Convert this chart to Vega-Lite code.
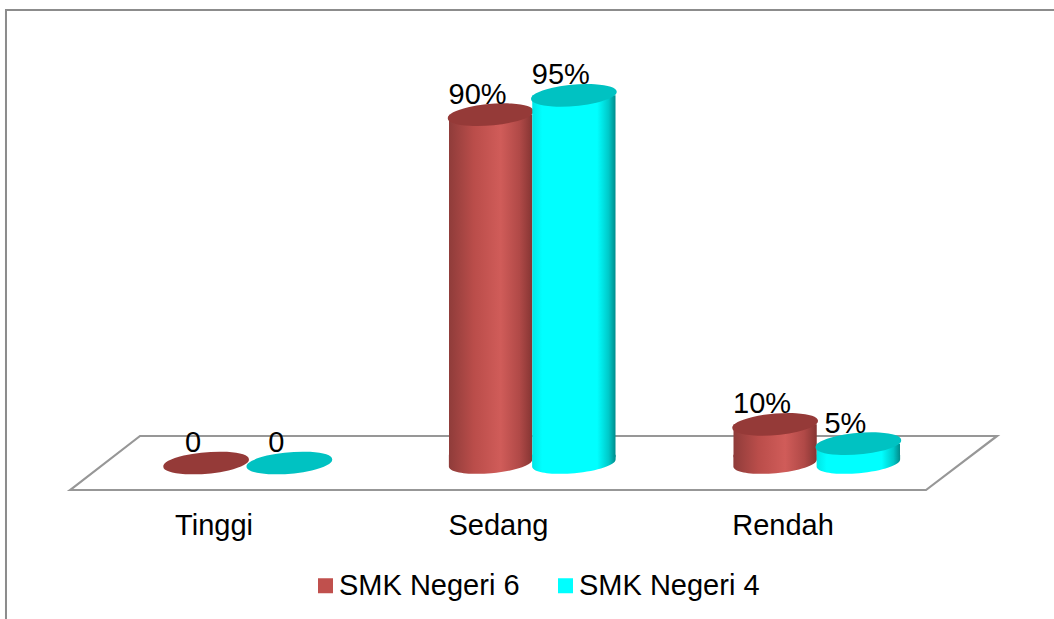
{
"$schema":"https://vega.github.io/schema/vega-lite/v6.json",
"width":1054,"height":619,"autosize":"none","padding":0,"background":"white",
"config":{"view":{"stroke":null},"font":"Liberation Sans"},
"data":{"values":[
{"kategori":"Tinggi","sekolah":"SMK Negeri 6","nilai":0,"label":"0"},
{"kategori":"Tinggi","sekolah":"SMK Negeri 4","nilai":0,"label":"0"},
{"kategori":"Sedang","sekolah":"SMK Negeri 6","nilai":90,"label":"90%"},
{"kategori":"Sedang","sekolah":"SMK Negeri 4","nilai":95,"label":"95%"},
{"kategori":"Rendah","sekolah":"SMK Negeri 6","nilai":10,"label":"10%"},
{"kategori":"Rendah","sekolah":"SMK Negeri 4","nilai":5,"label":"5%"}
]},
"encoding":{
"x":{"field":"kategori","type":"nominal","sort":["Tinggi","Sedang","Rendah"],
 "scale":{"domain":["Tinggi","Sedang","Rendah"],"range":[105.75,959.25],"paddingInner":0,"paddingOuter":0},
 "axis":{"title":null,"orient":"bottom","offset":-108,"domain":false,"ticks":false,"labelAngle":0,"labelPadding":0,"labelFontSize":29,"labelColor":"#000000","labelFont":"Liberation Sans","labelOffset":-34,"grid":false}},
"xOffset":{"field":"sekolah","type":"nominal","scale":{"domain":["SMK Negeri 6","SMK Negeri 4"],"range":[58.75,225.25],"paddingInner":0,"paddingOuter":0}},
"y":{"field":"nilai","type":"quantitative","scale":{"domain":[0,100],"range":[463,76],"nice":false},"axis":null}
},
"layer":[
{"mark":{"type":"point","filled":false,"fill":null,"stroke":"#8c8c8c","strokeWidth":2,"opacity":1,"size":1098304,"shape":"M-1.0048,0.32 L-1.0048,-0.8645 L1,-0.8645"},
 "transform":[{"filter":"datum.kategori=='Sedang' && datum.sekolah=='SMK Negeri 6'"}],
 "encoding":{"xOffset":{"value":142.25},"y":{"datum":0}}},
{"mark":{"type":"point","filled":false,"fill":null,"stroke":"#979797","strokeWidth":2.2,"opacity":1,"size":859329,"shape":"M-0.9978,0.0583 L-0.8468,-0.0583 L1.0022,-0.0583 L0.849,0.0583 Z"},
 "transform":[{"filter":"datum.kategori=='Sedang' && datum.sekolah=='SMK Negeri 6'"}],
 "encoding":{"xOffset":{"value":142.25},"y":{"datum":0}}},
{"transform":[{"filter":"datum.sekolah=='SMK Negeri 6'"}],"layer":[
 {"transform":[{"filter":"datum.nilai>0"}],"mark":{"type":"point","filled":true,"opacity":1,"strokeWidth":0,"size":6972,"shape":"M-1,-0.2 L-1,0.087 A1,0.245,-5,1,0,1,-0.087 L1,-0.2 Z",
  "color":{"gradient":"linear","x1":0,"x2":1,"y1":0,"y2":0,"stops":[{"offset":0,"color":"#8f3c3a"},{"offset":0.3,"color":"#ba4d4a"},{"offset":0.62,"color":"#d05c59"},{"offset":0.85,"color":"#b04947"},{"offset":1,"color":"#853533"}]}},
  "encoding":{"y":{"datum":0}}},
 {"transform":[{"filter":"datum.nilai>0"}],"mark":{"type":"bar","opacity":1,
  "color":{"gradient":"linear","x1":0,"x2":1,"y1":0,"y2":0,"stops":[{"offset":0,"color":"#8f3c3a"},{"offset":0.3,"color":"#ba4d4a"},{"offset":0.62,"color":"#d05c59"},{"offset":0.85,"color":"#b04947"},{"offset":1,"color":"#853533"}]}},
  "encoding":{"y2":{"datum":1.5}}},
 {"mark":{"type":"point","filled":true,"opacity":1,"strokeWidth":0,"color":"#953a38","size":7396,"shape":"M-0.996,0.087 A1,0.245,-5,1,1,0.996,-0.087 A1,0.245,-5,1,1,-0.996,0.087 Z"}}
]},
{"transform":[{"filter":"datum.sekolah=='SMK Negeri 4'"}],"layer":[
 {"transform":[{"filter":"datum.nilai>0"}],"mark":{"type":"point","filled":true,"opacity":1,"strokeWidth":0,"size":6972,"shape":"M-1,-0.2 L-1,0.087 A1,0.245,-5,1,0,1,-0.087 L1,-0.2 Z",
  "color":{"gradient":"linear","x1":0,"x2":1,"y1":0,"y2":0,"stops":[{"offset":0,"color":"#00e6e6"},{"offset":0.12,"color":"#00ffff"},{"offset":0.78,"color":"#00ffff"},{"offset":0.92,"color":"#00c8c8"},{"offset":1,"color":"#008c8c"}]}},
  "encoding":{"y":{"datum":0}}},
 {"transform":[{"filter":"datum.nilai>0"}],"mark":{"type":"bar","opacity":1,
  "color":{"gradient":"linear","x1":0,"x2":1,"y1":0,"y2":0,"stops":[{"offset":0,"color":"#00e6e6"},{"offset":0.12,"color":"#00ffff"},{"offset":0.78,"color":"#00ffff"},{"offset":0.92,"color":"#00c8c8"},{"offset":1,"color":"#008c8c"}]}},
  "encoding":{"y2":{"datum":1.5}}},
 {"mark":{"type":"point","filled":true,"opacity":1,"strokeWidth":0,"color":"#00c2c2","size":7396,"shape":"M-0.996,0.087 A1,0.245,-5,1,1,0.996,-0.087 A1,0.245,-5,1,1,-0.996,0.087 Z"}}
]},
{"mark":{"type":"text","fontSize":29,"font":"Liberation Sans","color":"#000000","dx":-13,"dy":-20},"encoding":{"text":{"field":"label"}}},
{"mark":{"type":"bar","opacity":0},
 "encoding":{"color":{"field":"sekolah","type":"nominal","scale":{"domain":["SMK Negeri 6","SMK Negeri 4"],"range":["#c0504d","#00ffff"]},
  "legend":{"title":null,"orient":"none","legendX":311,"legendY":571,"direction":"horizontal","columns":2,"symbolType":"square","symbolSize":225,"symbolOpacity":1,"symbolStrokeWidth":0,"labelFontSize":29,"labelFont":"Liberation Sans","labelColor":"#000000","labelOffset":-1,"columnPadding":31,"labelLimit":300}}}}
]
}
